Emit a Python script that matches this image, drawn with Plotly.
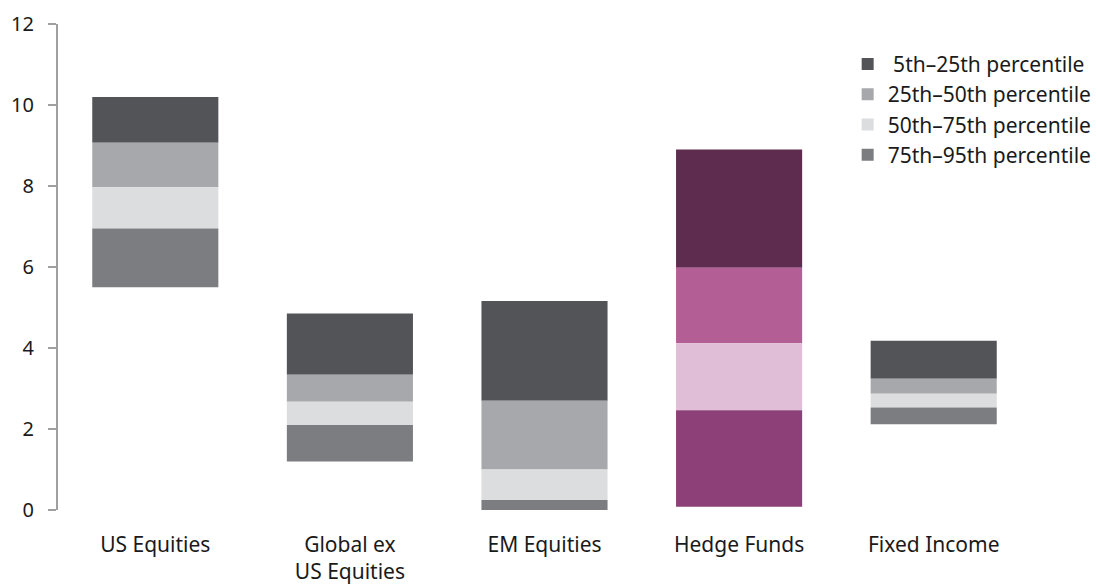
import plotly.graph_objects as go

categories = ["US Equities", "Global ex<br>US Equities", "EM Equities", "Hedge Funds", "Fixed Income"]
# percentile boundaries: [95th, 75th, 50th, 25th, 5th] (bottom to top)
p95 = [5.5, 1.2, 0.0, 0.08, 2.12]
p75 = [6.95, 2.1, 0.25, 2.46, 2.53]
p50 = [7.97, 2.67, 1.0, 4.12, 2.87]
p25 = [9.07, 3.34, 2.7, 5.98, 3.24]
p05 = [10.2, 4.85, 5.16, 8.9, 4.18]

series_names = ["\u00a05th\u201325th percentile", "25th\u201350th percentile",
                "50th\u201375th percentile", "75th\u201395th percentile"]
gray_colors = ["#535458", "#a7a8ab", "#dcdddf", "#7b7d81"]
purple_colors = ["#5e2c4f", "#b35f96", "#e1bed7", "#8c4077"]

lows = [p25, p50, p75, p95]
highs = [p05, p25, p50, p75]

fig = go.Figure()
W = 0.648
hf = categories.index("Hedge Funds")
for i in range(4):
    idx = [j for j in range(len(categories)) if j != hf]
    fig.add_trace(go.Bar(
        x=[categories[j] for j in idx],
        y=[highs[i][j] - lows[i][j] for j in idx],
        base=[lows[i][j] for j in idx],
        name=series_names[i], marker_color=gray_colors[i],
        marker_line_width=0, width=W, hoverinfo="skip"))
for i in range(4):
    fig.add_trace(go.Bar(
        x=[categories[hf]],
        y=[highs[i][hf] - lows[i][hf]],
        base=[lows[i][hf]],
        name=series_names[i], marker_color=purple_colors[i],
        marker_line_width=0, width=W, showlegend=False, hoverinfo="skip"))

fig.update_layout(
    width=1098, height=584,
    barmode="overlay",
    plot_bgcolor="white", paper_bgcolor="white",
    margin=dict(l=58, r=67, t=24, b=74, autoexpand=False),
    font=dict(family="Noto Sans", size=20, color="#1a1a1a"),
    showlegend=True,
    legend=dict(x=0.772, y=0.925, xref="container", yref="container",
                xanchor="left", yanchor="top",
                font=dict(size=21), traceorder="normal",
                bgcolor="rgba(0,0,0,0)", itemclick=False),
    xaxis=dict(type="category", categoryorder="array", categoryarray=categories,
               range=[-0.5, 4.5], showline=False, showgrid=False, ticks="",
               tickfont=dict(size=21), ticklabelstandoff=20, automargin=False),
    yaxis=dict(range=[0, 12], dtick=2, showgrid=False, zeroline=False,
               showline=True, linecolor="#a0a0a0", linewidth=2,
               ticks="outside", ticklen=8, tickcolor="#a0a0a0", tickwidth=1.5,
               tickfont=dict(size=20), ticklabelstandoff=10, automargin=False),
)
fig.write_html("out.html", config={"displayModeBar": False},
               post_script="document.body.style.margin='0';")
